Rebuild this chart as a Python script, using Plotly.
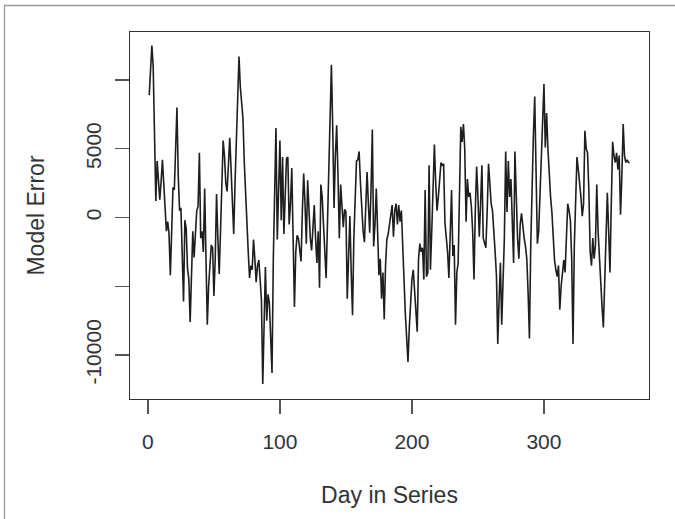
import plotly.graph_objects as go

days = list(range(1, 366))

errors = [
    8900, 10800, 12500, 11000, 5000, 1200, 4100, 2500, 1300, 2600,
    4200, 2500, 400, -1000, -300, -1200, -4200, -500, 2200, 2000,
    5500, 8000, 3000, 500, 700, -2800, -6100, -200, -800, -3700,
    -4500, -7600, -3000, -1000, -2900, -800, 500, 800, 4700, -1500,
    -1000, -2500, 2100, -3000, -7800, -5000, -3500, -2000, -2200, -5700,
    -3000, 1700, -1500, -4100, -1000, 3000, 5600, 4500, 2500, 1900,
    3500, 5800, 3500, 1000, -1200, 2500, 6000, 9000, 11700, 9500,
    8500, 7200, 4000, 1500, -900, -2500, -4400, -3500, -3800, -1600,
    -3000, -4700, -3500, -3100, -4500, -6000, -12100, -8000, -3600, -7500,
    -5600, -6200, -8500, -11300, -3000, 3500, 6500, -1600, 2500, 5600,
    -200, 4400, -1200, 1500, 4300, 4400, -500, 1000, 3600, -1500,
    -6500, -2500, -1300, -1500, -2200, -3200, 500, 3200, 1000, -1900,
    2700, 500, -1500, -2400, -1000, 900, -1500, -3300, -1000, -5100,
    2400, 1500, -500, -2500, -4400, -500, 3500, 7000, 11100, 6500,
    700, 4500, 6700, 3000, -1500, 2400, 800, -700, 600, 400,
    -5900, -2500, 100, -4000, -7100, -1500, 2000, 4100, 4200, 4800,
    2500, 200, -1000, -1800, 1500, 3300, 1000, -1100, 2000, 6400,
    -2100, -500, 2100, -1500, -4200, -3000, -5900, -4000, -7400, -3500,
    -1600, -1200, -500, 0, 900, -1400, 500, 1000, -500, 900,
    -300, 500, -1500, -4500, -7000, -8500, -10500, -8000, -6000, -4500,
    -3800, -5500, -6800, -8300, -3000, -1900, -2500, -2200, -4500, 2000,
    -4300, -4000, 3800, -3800, -1000, 2000, 5300, 2500, 500, 1500,
    3000, 4000, 3800, 3900, -400, -1500, -2500, -4400, -1000, 2000,
    -2800, -2000, -7800, -4000, -3300, 2000, 6600, 5500, 6800, 5000,
    -300, 2800, 1500, 1800, 800, -1000, -4500, 500, 3700, 1500,
    -1400, 1000, 3800, -1500, -1800, -2200, 500, 3900, 2500, 1000,
    500, -1500, -2500, -4200, -9200, -6000, -3300, -7800, -5000, -1500,
    4800, 400, 4100, 1500, 2800, -500, -3300, 4800, 1500, -1500,
    -3000, -500, 300, -800, -1500, -2100, -3000, -5500, -8800, -2000,
    3200, 6000, 8800, 3000, -1900, -1000, 2000, 5100, 6500, 9700,
    5100, 7600, 5000, 2700, 1500, 400, -2000, -3100, -3800, -4300,
    -3500, -6700, -5000, -4000, -3100, -4000, -1500, 1000, 500, -200,
    -3000, -9200, -2000, 2000, 4400, 3500, 2700, 1500, 100, 1000,
    6300, 5000, 4700, 2000, -2500, -3500, -1500, -3000, -2000, 2400,
    -1000, -3000, -5500, -6500, -8000, -5000, -2000, 1800, -1000, -4000,
    1000, 5500, 4500, 4000, 4700, 3500, 4500, 200, 3000, 6800,
    4500, 4000, 4200, 4000, 4000,
]

x_ticks = [0, 100, 200, 300]
y_ticks = [-10000, -5000, 0, 5000, 10000]
y_tick_labels = ["-10000", "", "0", "5000", ""]

FONT = "Liberation Sans, Arial, Helvetica, sans-serif"
TXT = "#333333"

fig = go.Figure()
fig.add_trace(go.Scatter(
    x=days, y=errors, mode="lines",
    line=dict(color="#1e1e1e", width=1.6),
    hoverinfo="skip", showlegend=False,
))

L, R, T, B = 130, 26, 32, 120
W, H = 675, 519
pw, ph = W - L - R, H - T - B

fig.update_layout(
    width=W, height=H,
    margin=dict(l=L, r=R, t=T, b=B),
    paper_bgcolor="white", plot_bgcolor="white",
    font=dict(family=FONT, size=21, color=TXT),
    hovermode=False,
    shapes=[dict(
        type="rect", xref="paper", yref="paper",
        x0=(4.5 - L) / pw, x1=(690 - L) / pw,
        y0=(H - B - 540) / ph, y1=(H - B - 5.5) / ph,
        line=dict(color="#9a9a9a", width=1.3), layer="below",
    )],
)
fig.update_xaxes(
    range=[-13.56, 379.56], tickvals=x_ticks, ticktext=[str(v) for v in x_ticks],
    showgrid=False, zeroline=False,
    showline=True, mirror=True, linecolor="#333333", linewidth=1.3,
    ticks="outside", ticklen=14, tickwidth=1.3, tickcolor="#555555",
    ticklabelstandoff=9,
    title=dict(text="Day in Series", standoff=35, font=dict(size=23, color=TXT)),
)
fig.update_yaxes(
    range=[-13200, 13490], tickvals=y_ticks, ticktext=y_tick_labels,
    tickangle=-90,
    showgrid=False, zeroline=False,
    showline=True, mirror=True, linecolor="#333333", linewidth=1.3,
    ticks="outside", ticklen=14, tickwidth=1.3, tickcolor="#555555",
    ticklabelstandoff=5,
    title=dict(text="Model Error", standoff=31, font=dict(size=23, color=TXT)),
)

fig.write_html(
    "out.html",
    config={"displayModeBar": False, "staticPlot": True},
    post_script="document.body.style.margin='0px';document.body.style.overflow='hidden';",
)
